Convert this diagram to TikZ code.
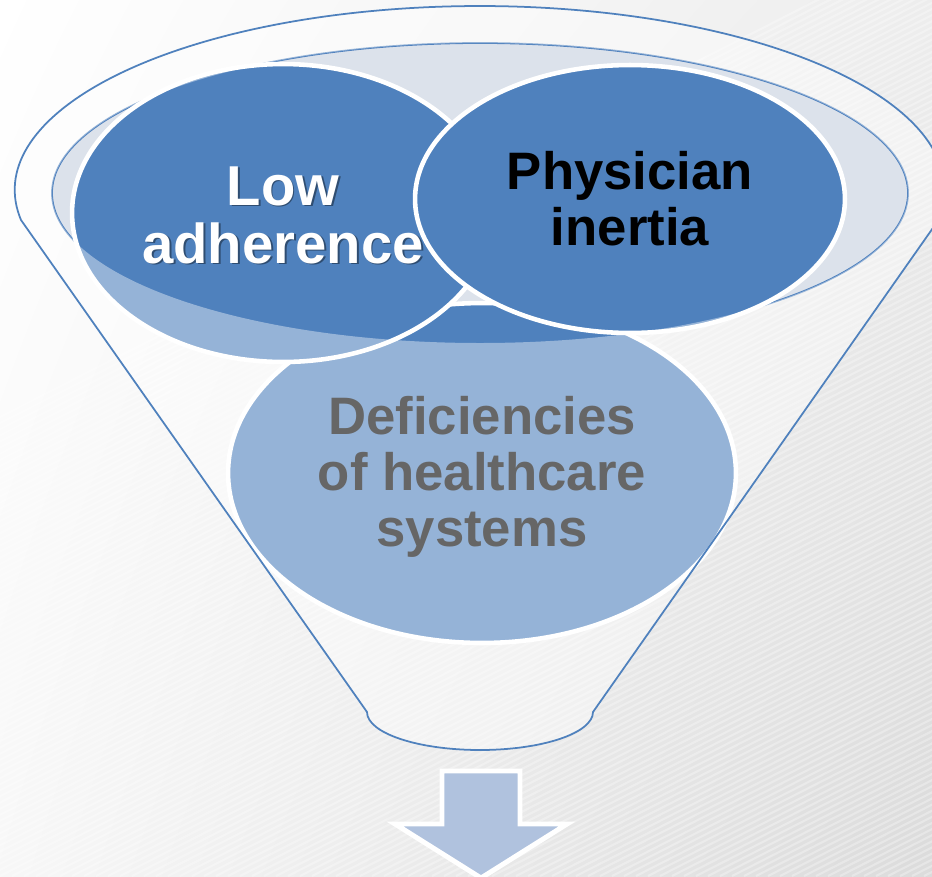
\documentclass[tikz,border=0pt]{standalone}
\usepackage{fontspec}
\setmainfont{Liberation Sans}
\usepackage{tikz}
\usetikzlibrary{shapes.geometric, shadings}

\definecolor{bleu}{HTML}{4F81BD}
\definecolor{bord}{HTML}{DCE2EB}
\definecolor{fleche}{HTML}{B0C2DE}

\begin{document}
\begin{tikzpicture}[
  x=0.02cm, y=0.02cm,
  every node/.style={font=\fontsize{30}{32}\selectfont\bfseries, align=center},
  grand/.style={font=\fontsize{32}{33}\selectfont\bfseries},
  bulle/.style={ellipse, draw=white, line width=2.6pt, fill=bleu, inner sep=0pt},
  trait/.style={draw=bleu, line width=1pt},
  rayure/.style={white, opacity=0.3, line width=1.2pt},
]
  % Fond
  \useasboundingbox (0,0) rectangle (932,-876);
  \shade[upper left=white, upper right=black!7, lower left=black!3, lower right=black!14]
    (0,0) rectangle (932,-876);
  \begin{scope}
    \clip (0,0) rectangle (932,-876);
    \foreach \k in {0,...,158}
      \draw[rayure] (\k*12-900,-876) -- ++(2000,1020);
  \end{scope}

  % Ouverture de l'entonnoir
  \draw[trait, fill=bord] (480,-193) ellipse[x radius=428, y radius=150];

  % Bulles
  \node[bulle, minimum width=10.16cm, minimum height=6.8cm] (deficits) at (482,-473) {};
  \node[bulle, minimum width=8.44cm, minimum height=5.96cm] (adherence) at (283,-213) {};
  \node[bulle, minimum width=8.6cm, minimum height=5.36cm] (inertie) at (630,-199)
    {Physician\\inertia};
  \node (deficitstxt) at ([shift={(0,-4)}]deficits.center)
    {Deficiencies\\of healthcare\\systems};
  \node[grand, text=black, opacity=0.4] (ombre) at ([shift={(1.8,-3.8)}]adherence.center)
    {Low\\adherence};
  \node[grand, text=white] (adherencetxt) at ([shift={(0,-2)}]adherence.center) {Low\\adherence};

  % Face avant de l'entonnoir
  \path[fill=white, fill opacity=0.4, even odd rule]
    (21,-220) arc[start angle=189.38, end angle=-9.38, x radius=465, y radius=184]
    -- (593,-712) arc[start angle=0, end angle=-180, x radius=113, y radius=38]
    -- cycle
    (480,-193) ellipse[x radius=428, y radius=150];
  \draw[trait]
    (21,-220) arc[start angle=189.38, end angle=-9.38, x radius=465, y radius=184]
    -- (593,-712) arc[start angle=0, end angle=-180, x radius=113, y radius=38]
    -- cycle;

  % Fleche vers le bas
  \draw[white, line width=2.8pt, fill=fleche]
    (442,-771) -- (520,-771) -- (520,-824) -- (567,-824) -- (481,-878)
    -- (395,-824) -- (442,-824) -- cycle;
\end{tikzpicture}
\end{document}
